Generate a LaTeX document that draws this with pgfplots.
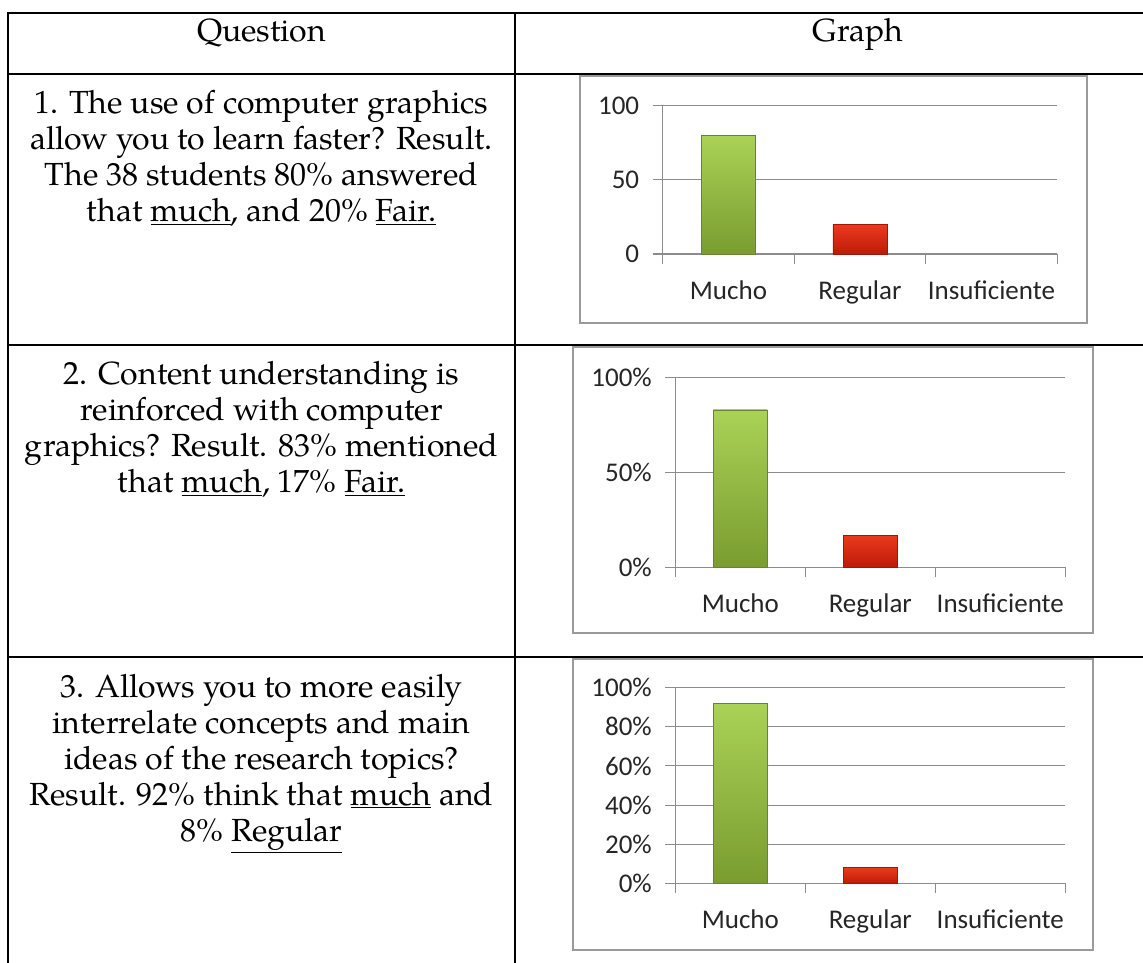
\documentclass[border=0pt]{standalone}
\usepackage{fontspec}
\setmainfont{TeX Gyre Pagella}
\newfontfamily\calibri{Carlito}
\usepackage{pgfplots}
\pgfplotsset{compat=1.18}
\definecolor{gridgray}{HTML}{8C8C8C}
\definecolor{boxgray}{HTML}{9A9A9A}
\definecolor{gtop}{HTML}{AAD256}
\definecolor{gbot}{HTML}{7A9C30}
\definecolor{rtop}{HTML}{EA3A1E}
\definecolor{rbot}{HTML}{BE1A08}
\pgfplotsset{excelchart/.style={
  scale only axis, anchor=south west,
  xmin=0, xmax=3, ymin=0, ymax=100,
  axis x line*=bottom, axis y line*=left,
  axis line style={gridgray, line width=1.1pt},
  xtick={0.5,1.5,2.5}, xticklabels={Mucho,Regular,Insuficiente},
  minor xtick={0,1,2,3},
  major x tick style={draw=none},
  tick align=outside,
  major tick length=10pt, minor tick length=10pt,
  tick style={gridgray, line width=1.1pt},
  ymajorgrids, grid style={gridgray, line width=1.1pt},
  ticklabel style={font=\calibri\fontsize{27}{31}\selectfont, text=black!85},
  xticklabel style={yshift=-13pt},
  yticklabel style={xshift=-10pt},
  /pgf/number format/assume math mode=true,
  clip=false,
}}
\newcommand\txt[3]{\node[anchor=base, inner sep=0pt] at (#1pt,{(963-#2)*1pt}) {\fontsize{32}{40}\selectfont #3};}
\begin{document}
\begin{tikzpicture}
\path[use as bounding box] (0,0) rectangle (1143pt,963pt);
% table lines
\draw[line width=2pt] (8pt,950pt) -- (1143pt,950pt);
\draw[line width=2pt] (8pt,888.5pt) -- (1143pt,888.5pt);
\draw[line width=2pt] (8pt,618.3pt) -- (1143pt,618.3pt);
\draw[line width=2pt] (8pt,306pt) -- (1143pt,306pt);
\draw[line width=2pt] (8pt,951pt) -- (8pt,0pt);
\draw[line width=2pt] (515pt,951pt) -- (515pt,0pt);
% header
\txt{261.5}{42}{Question}
\txt{858}{42}{Graph}
% row 1
\txt{261.5}{114}{1. The use of computer graphics}
\txt{261.5}{150}{allow you to learn faster? Result.}
\txt{261.5}{186}{The 38 students 80\% answered}
\txt{261.5}{222}{that \underline{much}, and 20\% \underline{Fair.}}
% row 2
\txt{261.5}{385}{2. Content understanding is}
\txt{261.5}{421}{reinforced with computer}
\txt{261.5}{457}{graphics? Result. 83\% mentioned}
\txt{261.5}{493}{that \underline{much}, 17\% \underline{Fair.}}
% row 3
\txt{261.5}{697.5}{3. Allows you to more easily}
\txt{261.5}{733.5}{interrelate concepts and main}
\txt{261.5}{769.5}{ideas of the research topics?}
\txt{261.5}{805.5}{Result. 92\% think that \underline{much} and}
\txt{261.5}{841.5}{8\% \underline{Regular}}
% chart boxes
\draw[boxgray, line width=2.2pt] (580pt,887pt) rectangle (1087pt,640pt);
\draw[boxgray, line width=2.2pt] (573pt,616pt) rectangle (1093pt,330pt);
\draw[boxgray, line width=2.2pt] (573pt,304pt) rectangle (1093pt,13pt);
% chart 1
\begin{axis}[excelchart, at={(662.7pt,709pt)}, width=394.5pt, height=148.3pt,
  ytick={0,50,100}]
\addplot[ybar, bar width=54pt, bar shift=0pt, draw=gbot!85!black, top color=gtop, bottom color=gbot] coordinates {(0.5,80)};
\addplot[ybar, bar width=54pt, bar shift=0pt, draw=rbot!85!black, top color=rtop, bottom color=rbot] coordinates {(1.5,20)};
\addplot[ybar, bar width=54pt, bar shift=0pt, draw=none, fill=none] coordinates {(2.5,0)};
\end{axis}
% chart 2
\begin{axis}[excelchart, at={(675.3pt,395.7pt)}, width=390pt, height=189.6pt,
  ytick={0,50,100}, yticklabels={0\%,50\%,100\%}]
\addplot[ybar, bar width=54pt, bar shift=0pt, draw=gbot!85!black, top color=gtop, bottom color=gbot] coordinates {(0.5,83)};
\addplot[ybar, bar width=54pt, bar shift=0pt, draw=rbot!85!black, top color=rtop, bottom color=rbot] coordinates {(1.5,17)};
\addplot[ybar, bar width=54pt, bar shift=0pt, draw=none, fill=none] coordinates {(2.5,0)};
\end{axis}
% chart 3
\begin{axis}[excelchart, at={(675.3pt,79.7pt)}, width=390pt, height=195.6pt,
  ytick={0,20,40,60,80,100}, yticklabels={0\%,20\%,40\%,60\%,80\%,100\%}]
\addplot[ybar, bar width=54pt, bar shift=0pt, draw=gbot!85!black, top color=gtop, bottom color=gbot] coordinates {(0.5,92)};
\addplot[ybar, bar width=54pt, bar shift=0pt, draw=rbot!85!black, top color=rtop, bottom color=rbot] coordinates {(1.5,8)};
\addplot[ybar, bar width=54pt, bar shift=0pt, draw=none, fill=none] coordinates {(2.5,0)};
\end{axis}
\end{tikzpicture}
\end{document}
